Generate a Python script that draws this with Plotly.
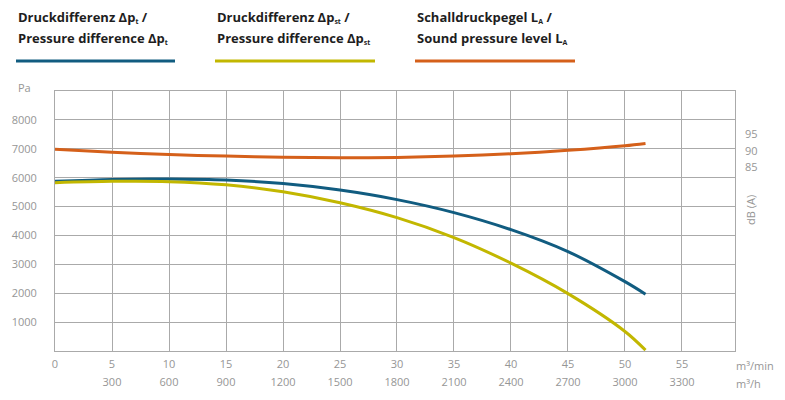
import plotly.graph_objects as go

# Data
flow_min = [0, 5, 10, 15, 20, 25, 30, 35, 40, 45, 50, 51.8]
dp_total = [5875, 5940, 5950, 5915, 5795, 5570, 5240, 4790, 4200, 3440, 2400, 1966]
dp_static = [5828, 5872, 5862, 5752, 5510, 5130, 4615, 3925, 3040, 1985, 675, 30]
sound_db = [90.45, 89.5, 88.8, 88.35, 88.0, 87.85, 87.95, 88.35, 89.05, 90.1, 91.5, 92.2]

x_ticks = [0, 5, 10, 15, 20, 25, 30, 35, 40, 45, 50, 55]
x_ticks_h = [5, 10, 15, 20, 25, 30, 35, 40, 45, 50, 55]
x_ticks_h_labels = ["300", "600", "900", "1200", "1500", "1800", "2100", "2400", "2700", "3000", "3300"]
y_ticks = [1000, 2000, 3000, 4000, 5000, 6000, 7000, 8000]
db_ticks = [85, 90, 95]

BLUE = "#115c80"
YELLOW = "#c2b700"
ORANGE = "#d5601a"
GRID = "#aaaaaa"
TICK = "rgb(150,150,150)"
FONT = "Open Sans"

fig = go.Figure()
fig.add_trace(go.Scatter(x=flow_min, y=dp_total, mode="lines",
                         line=dict(color=BLUE, width=3, shape="spline", smoothing=0.9),
                         showlegend=False, hoverinfo="skip"))
fig.add_trace(go.Scatter(x=flow_min, y=dp_static, mode="lines",
                         line=dict(color=YELLOW, width=3, shape="spline", smoothing=0.9),
                         showlegend=False, hoverinfo="skip"))
fig.add_trace(go.Scatter(x=flow_min, y=sound_db, mode="lines",
                         line=dict(color=ORANGE, width=3, shape="spline", smoothing=0.9),
                         yaxis="y2", showlegend=False, hoverinfo="skip"))
# invisible trace to carry second x axis (m³/h)
fig.add_trace(go.Scatter(x=[0], y=[0], xaxis="x2", mode="markers", marker=dict(opacity=0),
                         showlegend=False, hoverinfo="skip"))

XR = [0, 59.65]
fig.update_layout(
    width=785, height=400,
    margin=dict(l=55, r=50, t=91, b=49),
    paper_bgcolor="white", plot_bgcolor="white",
    font=dict(family=FONT, color=TICK, size=11),
    xaxis=dict(range=XR, tickvals=x_ticks, ticks="", showgrid=True, gridcolor=GRID, gridwidth=1,
               showline=True, linecolor=GRID, linewidth=1, mirror=True, zeroline=False, color=TICK,
               tickfont=dict(family=FONT, size=11, color=TICK), ticklabelstandoff=3),
    xaxis2=dict(range=XR, tickvals=x_ticks_h, ticktext=x_ticks_h_labels, overlaying="x", side="bottom",
                anchor="y", ticks="", showgrid=False, showline=False, zeroline=False, color=TICK,
                tickfont=dict(family=FONT, size=11, color=TICK), ticklabelstandoff=23),
    yaxis=dict(range=[0, 9000], tickvals=y_ticks, ticks="", showgrid=True, gridcolor=GRID, gridwidth=1,
               showline=True, linecolor=GRID, linewidth=1, mirror=True, zeroline=False, color=TICK,
               tickfont=dict(family=FONT, size=11, color=TICK), ticklabelstandoff=15),
    yaxis2=dict(range=[29.2, 108.1], tickvals=db_ticks, overlaying="y", side="right", ticks="",
                showgrid=False, showline=False, zeroline=False, color=TICK,
                tickfont=dict(family=FONT, size=11, color=TICK), ticklabelstandoff=9),
)

def px_to_paper_x(px):
    return (px - 55) / 680.0

def px_to_paper_y(py):
    return (351 - py) / 260.0

def sub(s):
    return "<span style='font-size:10px'><sub>" + s + "</sub></span>"

# Header legend
headers = [
    (16, "Druckdifferenz Δp" + sub("t") + " /", "Pressure difference Δp" + sub("t"), BLUE, 16, 175),
    (215, "Druckdifferenz Δp" + sub("st") + " /", "Pressure difference Δp" + sub("st"), YELLOW, 215, 375),
    (415, "Schalldruckpegel L" + sub("A") + " /", "Sound pressure level L" + sub("A"), ORANGE, 415, 575),
]
for x0, l1, l2, col, lx0, lx1 in headers:
    for txt, yc in ((l1, 17), (l2, 38)):
        fig.add_annotation(x=px_to_paper_x(x0), y=px_to_paper_y(yc), xref="paper", yref="paper",
                           text="<b>" + txt + "</b>", showarrow=False, xanchor="left", yanchor="middle",
                           font=dict(family=FONT, size=13, color="#1e1e1e"))
    fig.add_shape(type="line", xref="paper", yref="paper",
                  x0=px_to_paper_x(lx0), x1=px_to_paper_x(lx1),
                  y0=px_to_paper_y(61), y1=px_to_paper_y(61),
                  line=dict(color=col, width=3))

# Axis unit labels
fig.add_annotation(x=px_to_paper_x(16), y=px_to_paper_y(87), xref="paper", yref="paper", text="Pa",
                   showarrow=False, xanchor="left", yanchor="middle", font=dict(family=FONT, size=11, color=TICK))
fig.add_annotation(x=px_to_paper_x(734), y=px_to_paper_y(365), xref="paper", yref="paper", text="m³/min",
                   showarrow=False, xanchor="left", yanchor="middle", font=dict(family=FONT, size=11, color=TICK))
fig.add_annotation(x=px_to_paper_x(734), y=px_to_paper_y(383), xref="paper", yref="paper", text="m³/h",
                   showarrow=False, xanchor="left", yanchor="middle", font=dict(family=FONT, size=11, color=TICK))
fig.add_annotation(x=px_to_paper_x(750), y=px_to_paper_y(210), xref="paper", yref="paper", text="dB (A)",
                   showarrow=False, textangle=-90, xanchor="center", yanchor="middle",
                   font=dict(family=FONT, size=11, color=TICK))

fig.write_html("out.html")
